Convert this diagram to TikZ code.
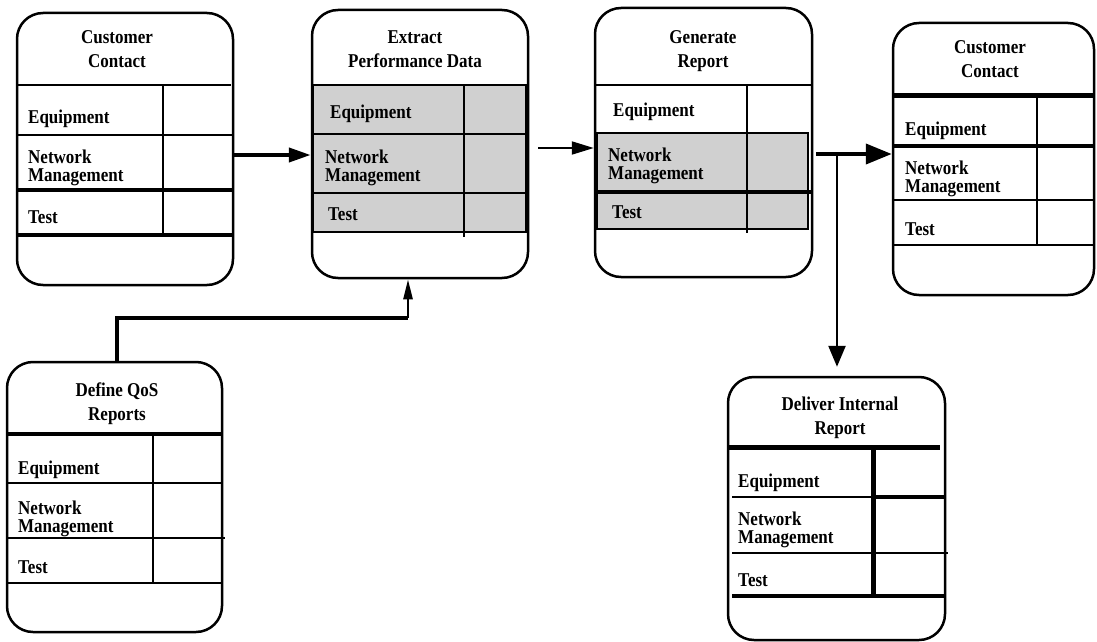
\documentclass[tikz,border=0pt]{standalone}
\usepackage{fontspec}
\setmainfont{Liberation Serif}
\usetikzlibrary{arrows.meta,calc}
\definecolor{cellgray}{HTML}{D0D0D0}
\newcommand\celltext[1]{\scalebox{1}[1.15]{\fontsize{17}{15.6}\selectfont\bfseries\begin{tabular}{@{}l@{}}#1\end{tabular}}}
\newcommand\titletext[1]{\scalebox{1}[1.15]{\fontsize{17}{20.5}\selectfont\bfseries\begin{tabular}{@{}c@{}}#1\end{tabular}}}
\tikzset{
  box/.style={draw, line width=2.5pt, rounded corners=26pt, fill=white, inner sep=0pt},
  title/.style={inner sep=0pt},
  cell/.style={anchor=west, inner sep=0pt, yshift=-2pt},
  thin/.style={line width=2pt},
  mid/.style={line width=2.6pt},
  heavy/.style={line width=4pt},
  grayarea/.style={fill=cellgray, draw, line width=2.6pt},
  flow/.style={line width=4pt, -{Triangle[length=22pt,width=14pt]}},
  flowthin/.style={line width=2pt, -{Triangle[length=22pt,width=13pt]}},
}
\begin{document}
\begin{tikzpicture}[x=1pt,y=-1pt]
\useasboundingbox (0,0) rectangle (1097,642);

% ---------- Box 1: Customer Contact ----------
\node[box, minimum width=216pt, minimum height=272pt] (b1) at (125,149) {};
\node[title] (t1) at (117,51) {\titletext{Customer\\Contact}};
\draw[mid] (17,85) -- (231,85);
\draw[mid] (163,85) -- (163,233);
\draw[thin] (17,135) -- (233,135);
\draw[heavy] (17,190) -- (233,190);
\draw[heavy] (17,235) -- (233,235);
\node[cell] (e1) at (28,117) {\celltext{Equipment}};
\node[cell] (n1) at (28,166) {\celltext{Network\\Management}};
\node[cell] (s1) at (28,218) {\celltext{Test}};

% ---------- Box 2: Extract Performance Data ----------
\node[box, minimum width=216pt, minimum height=268pt] (b2) at (420,144) {};
\node[title] (t2) at (415,51) {\titletext{Extract\\Performance Data}};
\draw[grayarea] (313,85) rectangle (526,232);
\draw[mid] (313,134) -- (526,134);
\draw[mid] (313,193) -- (526,193);
\draw[mid] (464,85) -- (464,237);
\node[cell] (e2) at (330,112) {\celltext{Equipment}};
\node[cell] (n2) at (325,166) {\celltext{Network\\Management}};
\node[cell] (s2) at (328,215) {\celltext{Test}};

% ---------- Box 3: Generate Report ----------
\node[box, minimum width=217pt, minimum height=269pt] (b3) at (703.5,142.5) {};
\node[title] (t3) at (703,51) {\titletext{Generate\\Report}};
\draw[mid] (595,85) -- (812,85);
\draw[grayarea] (597,133) rectangle (808,229);
\draw[heavy] (595,192) -- (812,192);
\draw[mid] (747,85) -- (747,233);
\node[cell] (e3) at (613,110) {\celltext{Equipment}};
\node[cell] (n3) at (608,164) {\celltext{Network\\Management}};
\node[cell] (s3) at (612,213) {\celltext{Test}};

% ---------- Box 4: Customer Contact ----------
\node[box, minimum width=201pt, minimum height=272pt] (b4) at (993.5,159) {};
\node[title] (t4) at (990,61) {\titletext{Customer\\Contact}};
\draw[line width=5pt] (893,95) -- (1094,95);
\draw[mid] (1037,95) -- (1037,245);
\draw[heavy] (893,146) -- (1094,146);
\draw[mid] (893,200) -- (1094,200);
\draw[mid] (893,245) -- (1094,245);
\node[cell] (e4) at (905,129) {\celltext{Equipment}};
\node[cell] (n4) at (905,177) {\celltext{Network\\Management}};
\node[cell] (s4) at (905,230) {\celltext{Test}};

% ---------- Box 5: Define QoS Reports ----------
\node[box, minimum width=215pt, minimum height=270pt] (b5) at (114.5,497) {};
\node[title] (t5) at (117,404) {\titletext{Define QoS\\Reports}};
\draw[heavy] (7,434) -- (222,434);
\draw[mid] (153,434) -- (153,583);
\draw[mid] (7,483) -- (222,483);
\draw[thin] (7,538) -- (225,538);
\draw[mid] (7,583) -- (222,583);
\node[cell] (e5) at (18,468) {\celltext{Equipment}};
\node[cell] (n5) at (18,517) {\celltext{Network\\Management}};
\node[cell] (s5) at (18,568) {\celltext{Test}};

% ---------- Box 6: Deliver Internal Report ----------
\node[box, minimum width=217pt, minimum height=263pt] (b6) at (836.5,508.5) {};
\node[title] (t6) at (840,418) {\titletext{Deliver Internal\\Report}};
\draw[line width=5pt] (728,447) -- (940,447);
\draw[line width=5pt] (873,447) -- (873,596);
\draw[thin] (732,497) -- (873,497);
\draw[heavy] (873,497) -- (945,497);
\draw[thin] (732,553) -- (948,553);
\draw[heavy] (732,596) -- (945,596);
\node[cell] (e6) at (738,481) {\celltext{Equipment}};
\node[cell] (n6) at (738,528) {\celltext{Network\\Management}};
\node[cell] (s6) at (738,581) {\celltext{Test}};

% ---------- Connectors ----------
\coordinate (r1) at (0,155);
\draw[flow] (b1.east |- r1) -- (b2.west |- r1);

\coordinate (r2) at (0,148);
\draw[flowthin, shorten <=9pt] (b2.east |- r2) -- (b3.west |- r2);

\coordinate (r3) at (0,154);
\draw[line width=4pt, -{Triangle[length=26pt,width=20pt]}, shorten <=3pt] (b3.east |- r3) -- (b4.west |- r3);

\coordinate (br) at (837,154);
\draw[line width=2.5pt, -{Triangle[length=21pt,width=17pt]}, shorten >=9pt] (br) -- (br |- b6.north);

\coordinate (j1) at (117,318);
\coordinate (j2) at (408,318);
\draw[line width=4pt] (j1 |- b5.north) -- (j1) -- (j2);
\draw[line width=2.5pt, -{Triangle[length=20pt,width=9pt]}] (j2) -- (j2 |- b2.south);
\end{tikzpicture}
\end{document}
